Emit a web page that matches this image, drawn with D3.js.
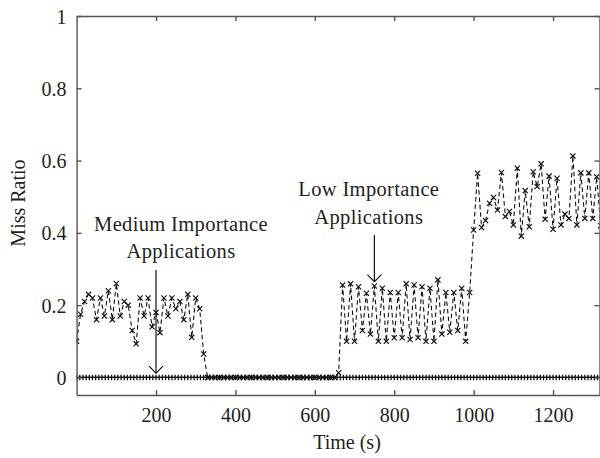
<!DOCTYPE html>
<html lang="en">
<head>
    <meta charset="UTF-8">
    <title>Miss Ratio vs Time</title>
    <script src="https://d3js.org/d3.v7.min.js"></script>
    <style>
        body { margin: 0; background: #fff; }
        svg { display: block; font-family: "Liberation Serif", "DejaVu Serif", serif; }
        .axis text { font-size: 20px; fill: #231f20; font-family: "Liberation Serif", serif; }
        .axis path, .axis line { stroke: #555; stroke-width: 1.4; }
        .label { font-size: 20px; fill: #231f20; }
        .note { font-size: 20.5px; fill: #231f20; text-anchor: middle; letter-spacing: 0.35px; }
    </style>
</head>
<body>
    <svg id="chart" width="600" height="458"></svg>

    <script>
        // dashed series with x markers, one sample every 10 s (0 .. 1320)
        var sampleStep = 10;
        var missRatio = [
            // medium importance phase, 0 - 320 s
            0.10, 0.175, 0.21, 0.23, 0.22, 0.16, 0.22, 0.17, 0.24, 0.16, 0.26,
            0.17, 0.21, 0.20, 0.13, 0.093, 0.22, 0.17, 0.22, 0.14, 0.18, 0.124,
            0.22, 0.17, 0.22, 0.19, 0.21, 0.16, 0.23, 0.111, 0.22, 0.19, 0.065,
            // idle, 330 - 650 s
            0, 0, 0, 0, 0, 0, 0, 0, 0, 0, 0, 0, 0, 0, 0, 0, 0,
            0, 0, 0, 0, 0, 0, 0, 0, 0, 0, 0, 0, 0, 0, 0, 0,
            0.013,
            // low importance phase, 670 - 990 s
            0.256, 0.10, 0.259, 0.10, 0.251, 0.13, 0.233, 0.12, 0.253, 0.10, 0.247,
            0.10, 0.235, 0.11, 0.235, 0.11, 0.259, 0.105, 0.256, 0.11, 0.251, 0.10,
            0.247, 0.10, 0.27, 0.12, 0.235, 0.125, 0.235, 0.13, 0.247, 0.10, 0.235,
            // 1000 - 1320 s
            0.408, 0.565, 0.415, 0.434, 0.482, 0.498, 0.463, 0.567, 0.445, 0.459, 0.422,
            0.579, 0.391, 0.517, 0.417, 0.569, 0.528, 0.591, 0.438, 0.557, 0.41, 0.551,
            0.422, 0.452, 0.44, 0.613, 0.422, 0.566, 0.44, 0.566, 0.44, 0.555, 0.42
        ];

        // solid baseline series with + markers, one sample every 8 s
        var baseStep = 8;
        var baseRatio = [
            0, 0, 0, 0, 0, 0, 0, 0, 0, 0, 0, 0, 0, 0, 0, 0, 0, 0, 0, 0,
            0, 0, 0, 0, 0, 0, 0, 0, 0, 0, 0, 0, 0, 0, 0, 0, 0, 0, 0, 0,
            0, 0, 0, 0, 0, 0, 0, 0, 0, 0, 0, 0, 0, 0, 0, 0, 0, 0, 0, 0,
            0, 0, 0, 0, 0, 0, 0, 0, 0, 0, 0, 0, 0, 0, 0, 0, 0, 0, 0, 0,
            0, 0, 0, 0, 0, 0, 0, 0, 0, 0, 0, 0, 0, 0, 0, 0, 0, 0, 0, 0,
            0, 0, 0, 0, 0, 0, 0, 0, 0, 0, 0, 0, 0, 0, 0, 0, 0, 0, 0, 0,
            0, 0, 0, 0, 0, 0, 0, 0, 0, 0, 0, 0, 0, 0, 0, 0, 0, 0, 0, 0,
            0, 0, 0, 0, 0, 0, 0, 0, 0, 0, 0, 0, 0, 0, 0, 0, 0, 0, 0, 0,
            0, 0, 0, 0, 0, 0
        ];

        var xTicks = [200, 400, 600, 800, 1000, 1200];
        var yTicks = [0, 0.2, 0.4, 0.6, 0.8, 1];

        // annotations: label lines, arrow time, arrow top/tip values, text anchor
        var notes = [
            { lines: ["Medium Importance", "Applications"], t: 200, from: 0.297, to: 0.012, tx: 263, ty: 0.406 },
            { lines: ["Low Importance", "Applications"], t: 750, from: 0.394, to: 0.265, tx: 736, ty: 0.502 }
        ];

        var pLeft = 76.6, pRight = 599.5, pTop = 16, pBottom = 395;

        var svg = d3.select("#chart");

        var x = d3.scaleLinear().domain([0, 1317]).range([pLeft, pRight]);
        var y = d3.scaleLinear().domain([-0.0485, 1]).range([pBottom, pTop]);

        var series = missRatio.map(function (v, i) { return { t: i * sampleStep, v: v }; });
        var base = baseRatio.map(function (v, i) { return { t: i * baseStep, v: v }; });

        svg.append("clipPath").attr("id", "clip")
            .append("rect")
            .attr("x", pLeft).attr("y", pTop)
            .attr("width", pRight - pLeft).attr("height", pBottom - pTop);

        var plot = svg.append("g").attr("clip-path", "url(#clip)");

        var line = d3.line()
            .x(function (d) { return x(d.t); })
            .y(function (d) { return y(d.v); });

        // dashed series
        plot.append("path")
            .datum(series)
            .attr("d", line)
            .attr("fill", "none")
            .attr("stroke", "#111")
            .attr("stroke-width", 1.1)
            .attr("stroke-dasharray", "4.5,3");

        plot.selectAll(".xmark")
            .data(series)
            .enter().append("path")
            .attr("class", "xmark")
            .attr("transform", function (d) { return "translate(" + x(d.t) + "," + y(d.v) + ")"; })
            .attr("d", "M-2.6,-2.6L2.6,2.6M-2.6,2.6L2.6,-2.6")
            .attr("stroke", "#111")
            .attr("stroke-width", 1.15);

        // solid baseline
        plot.append("path")
            .datum(base)
            .attr("d", line)
            .attr("fill", "none")
            .attr("stroke", "#111")
            .attr("stroke-width", 1.3);

        plot.selectAll(".pmark")
            .data(base)
            .enter().append("path")
            .attr("class", "pmark")
            .attr("transform", function (d) { return "translate(" + x(d.t) + "," + y(d.v) + ")"; })
            .attr("d", "M0,-2.8L0,2.8M-1.5,0L1.5,0")
            .attr("stroke", "#111")
            .attr("stroke-width", 1.3);

        // axes, ticks pointing inward
        svg.append("g")
            .attr("class", "axis")
            .attr("transform", "translate(0," + pBottom + ")")
            .call(d3.axisBottom(x).tickValues(xTicks).tickSize(-5).tickSizeOuter(0).tickFormat(String))
            .call(function (g) { g.selectAll("text").attr("y", 27).attr("dy", null); });

        svg.append("g")
            .attr("class", "axis")
            .attr("transform", "translate(0," + pTop + ")")
            .call(d3.axisTop(x).tickValues(xTicks).tickSize(-5).tickSizeOuter(0).tickFormat(""));

        svg.append("g")
            .attr("class", "axis")
            .attr("transform", "translate(" + pLeft + ",0)")
            .call(d3.axisLeft(y).tickValues(yTicks).tickSize(-5).tickSizeOuter(0).tickPadding(10).tickFormat(String))
            .call(function (g) { g.selectAll("text").attr("dy", "0.35em"); });

        svg.append("g")
            .attr("class", "axis")
            .attr("transform", "translate(" + pRight + ",0)")
            .call(d3.axisRight(y).tickValues(yTicks).tickSize(-5).tickSizeOuter(0).tickFormat(""));

        // axis labels
        svg.append("text")
            .attr("class", "label")
            .attr("x", 347)
            .attr("y", 449)
            .attr("text-anchor", "middle")
            .text("Time (s)");

        svg.append("text")
            .attr("class", "label")
            .attr("transform", "rotate(-90)")
            .attr("x", -203)
            .attr("y", 25)
            .attr("text-anchor", "middle")
            .text("Miss Ratio");

        // annotations with arrows
        notes.forEach(function (n) {
            var t = svg.append("text").attr("class", "note");
            n.lines.forEach(function (s, i) {
                t.append("tspan")
                    .attr("x", x(n.tx))
                    .attr("y", y(n.ty) + i * 27.5)
                    .text(s);
            });
            var ax = x(n.t), y0 = y(n.from), y1 = y(n.to);
            svg.append("line")
                .attr("x1", ax).attr("x2", ax)
                .attr("y1", y0).attr("y2", y1)
                .attr("stroke", "#111").attr("stroke-width", 1.2);
            svg.append("path")
                .attr("d", "M" + (ax - 7) + "," + (y1 - 7) + "L" + ax + "," + y1 + "L" + (ax + 7) + "," + (y1 - 7))
                .attr("fill", "none")
                .attr("stroke", "#111").attr("stroke-width", 1.2);
        });
    </script>
</body>
</html>
